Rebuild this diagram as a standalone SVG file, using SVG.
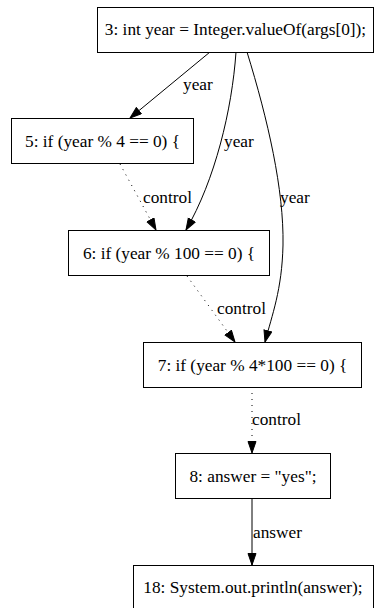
<svg xmlns="http://www.w3.org/2000/svg" width="375" height="608" viewBox="0 0 375 608">
<style>
.node rect{fill:#fff;stroke:#000;stroke-width:1}
.node text{text-anchor:middle}
.edge{fill:none;stroke:#000;stroke-width:1}
.dot{stroke-dasharray:1,5}
</style>
<defs>
<marker id="ah" markerUnits="userSpaceOnUse" markerWidth="13" markerHeight="10" refX="12" refY="4.5" orient="auto">
<path d="M0.5,0.5 L12,4.5 L0.5,8.5 z" fill="#000" stroke="#000" stroke-width="1"/>
</marker>
</defs>
<rect width="375" height="608" fill="#fff"/>
<g font-family="'Liberation Serif', 'Times New Roman', serif" font-size="17.3" fill="#000">
<g id="edges">
<path class="edge" d="M210,52 L130,118" marker-end="url(#ah)"/>
<text x="183" y="90">year</text>
<path class="edge" d="M236,52 C232,110 215,180 186,230" marker-end="url(#ah)"/>
<text x="224" y="147">year</text>
<path class="edge" d="M247,52 C268,120 284,190 283,245 C282,290 272,315 265,342" marker-end="url(#ah)"/>
<text x="280" y="203">year</text>
<path class="edge dot" d="M120,164 L156,230" marker-end="url(#ah)"/>
<text x="143" y="203">control</text>
<path class="edge dot" d="M187,276 L235,342" marker-end="url(#ah)"/>
<text x="217" y="314">control</text>
<path class="edge dot" d="M252,387 L252,453" marker-end="url(#ah)"/>
<text x="252" y="425">control</text>
<path class="edge" d="M252,499 L252,565" marker-end="url(#ah)"/>
<text x="253" y="538">answer</text>
</g>
<g id="n3" class="node"><rect x="97.5" y="7.5" width="276" height="45"/><text x="235.5" y="34.5">3: int year = Integer.valueOf(args[0]);</text></g>
<g id="n5" class="node"><rect x="11.5" y="118.5" width="182" height="45"/><text x="102.5" y="146.5">5: if (year % 4 == 0) {</text></g>
<g id="n6" class="node"><rect x="68.5" y="230.5" width="201" height="45"/><text x="169" y="258.5">6: if (year % 100 == 0) {</text></g>
<g id="n7" class="node"><rect x="143.5" y="342.5" width="218" height="45"/><text x="252.5" y="370.5">7: if (year % 4*100 == 0) {</text></g>
<g id="n8" class="node"><rect x="175.5" y="453.5" width="155" height="45"/><text x="253" y="481.5">8: answer = "yes";</text></g>
<g id="n18" class="node"><rect x="133.5" y="565.5" width="240" height="45"/><text x="253" y="593">18: System.out.println(answer);</text></g>
</g>
</svg>
